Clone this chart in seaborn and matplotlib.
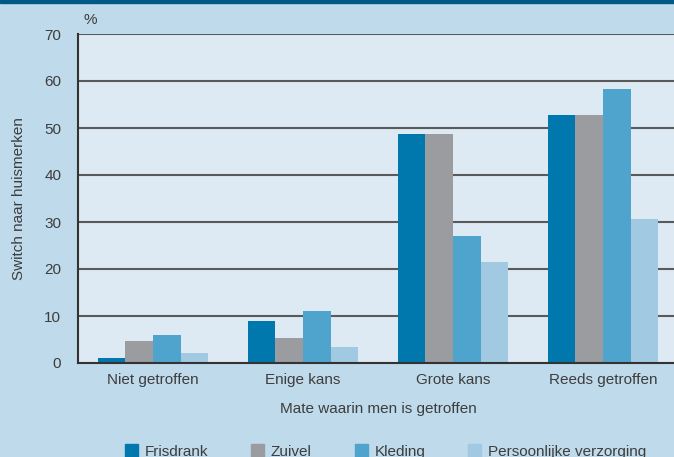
import pandas as pd
import matplotlib.pyplot as plt
import seaborn as sns
from matplotlib.patches import Rectangle

categories = ["Niet getroffen", "Enige kans", "Grote kans", "Reeds getroffen"]
series = ["Frisdrank", "Zuivel", "Kleding", "Persoonlijke verzorging"]
frisdrank = [1.1, 9.0, 48.7, 52.8]
zuivel = [4.7, 5.4, 48.7, 52.8]
kleding = [6.0, 11.0, 27.0, 58.3]
verzorging = [2.2, 3.5, 21.5, 30.6]
colors = ["#0077ad", "#9b9ca0", "#4ea4cd", "#a2c9e2"]

rows = []
for name, vals in zip(series, [frisdrank, zuivel, kleding, verzorging]):
    for cat, v in zip(categories, vals):
        rows.append({"cat": cat, "serie": name, "val": v})
df = pd.DataFrame(rows)

sns.set_style("white")
plt.rcParams["font.family"] = ["Liberation Sans", "DejaVu Sans"]
txt = "#3d3d3d"
fs = 11

fig = plt.figure(figsize=(6.74, 4.57), dpi=100, facecolor="#bfdaea")
ax = fig.add_axes([78 / 674, 1 - 363 / 457, 600 / 674, 329 / 457])
ax.set_facecolor("#ddeaf3")

sns.barplot(data=df, x="cat", y="val", hue="serie", palette=colors,
            width=0.735, saturation=1, linewidth=0, edgecolor="none",
            ax=ax, zorder=3, legend=False)

ax.set_ylim(0, 70)
ax.set_xlim(-0.5, 3.5)
ax.set_yticks(range(0, 71, 10))
for y in range(10, 71, 10):
    ax.axhline(y, color="#5a5a5a", lw=1.5, zorder=1)
for s in ["top", "right"]:
    ax.spines[s].set_visible(False)
for s in ["left", "bottom"]:
    ax.spines[s].set_color("#333333")
    ax.spines[s].set_linewidth(1.5)
ax.spines["bottom"].set_zorder(5)
ax.tick_params(length=0, labelsize=fs, labelcolor=txt)
ax.tick_params(axis="y", pad=12)
ax.tick_params(axis="x", pad=7)

ax.set_xlabel("Mate waarin men is getroffen", fontsize=fs, color=txt, labelpad=11)
ax.set_ylabel("Switch naar huismerken", fontsize=fs, color=txt, labelpad=13)
ax.text(0.0085, 1.03, "%", transform=ax.transAxes, fontsize=fs, color=txt)

handles = [Rectangle((0, 0), 1, 1, color=c) for c in colors]
fig.legend(handles, series, loc="center", bbox_to_anchor=(0.572, 0.012),
           ncol=4, frameon=False, fontsize=fs, handlelength=0.85,
           handleheight=0.85, columnspacing=2.8, handletextpad=0.45,
           labelcolor=txt)

fig.add_artist(Rectangle((0, 1 - 3 / 457), 1, 3 / 457, transform=fig.transFigure,
                         color="#005a87"))

fig.savefig("out.png", dpi=100, facecolor=fig.get_facecolor())
